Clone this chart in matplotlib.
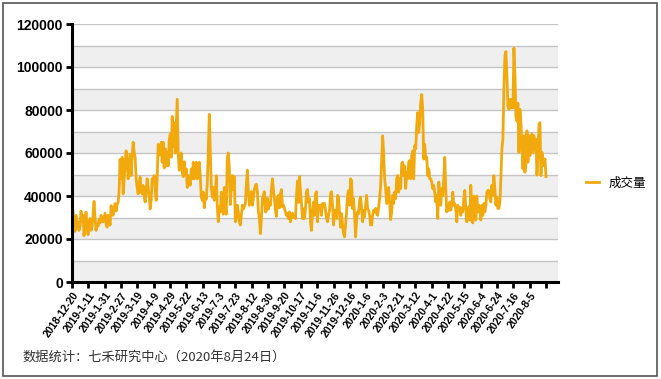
import numpy as np
import matplotlib
matplotlib.use("Agg")
import matplotlib.pyplot as plt
from matplotlib.patches import Rectangle

plt.rcParams["font.family"] = ["Liberation Sans", "Noto Sans CJK SC", "DejaVu Sans"]

# daily trading volume, 2018-12-20 .. 2020-08-21
volume = [
    35000, 33000, 26000, 23500, 31000, 25000, 28000, 24000, 26000, 33000,
    28000, 31000, 21500, 26000, 32500, 26000, 22000, 27000, 29500, 24000,
    25500, 31000, 37500, 30000, 24000, 27000, 26000, 29000, 27500, 31000,
    29000, 28000, 30000, 32000, 27000, 25500, 31000, 29000, 26500, 35500,
    33000, 31000, 34000, 36500, 33000, 36000, 37000, 42000, 57000, 48000,
    58000, 41000, 47000, 55000, 61000, 55500, 48000, 55000, 59500, 49500,
    58000, 65000, 60500, 58000, 48000, 44000, 41000, 46000, 48800, 42000,
    41000, 44900, 40000, 37200, 42000, 48000,
    44000, 40000, 34000, 38000, 48000, 47000, 49500, 43000, 38000, 48000,
    64000, 59000, 60000, 65000, 55700, 65000, 53000, 62000, 54000, 60000,
    54000, 66000, 68800, 58000, 77000, 63000, 74000, 60000, 72000, 85000,
    60000, 52000, 55000, 60000, 51000, 49000, 56000, 50000, 52600, 44000,
    49500, 48000, 45000, 52600, 48000, 55700, 48000, 51000, 55700, 48000,
    49500, 55700, 49500, 39500, 38000, 41800, 34500, 40000, 38500, 46000,
    60000, 78000, 61000, 44000, 39500, 44000, 38000, 41000, 49500, 35000,
    28000, 35000, 32600, 41800, 35000, 31500, 44000, 35000, 31500, 58000,
    60000, 53000, 36000, 44000, 49500, 43000, 49000, 28000, 30000, 35700,
    32600, 28000, 26500, 31000, 35700, 34000, 35000, 36500, 45000, 52000,
    42000, 35700, 37000, 42000, 35700, 39000, 43000, 45000, 45500, 42000,
    32600, 29500, 22500, 29500, 39000, 40300, 42000, 32600, 33000, 39000,
    34000, 37000, 35700, 43000, 48000, 43000, 39000, 33400, 30500, 39000,
    40300, 34500, 41000, 43000, 35000, 35700, 34200, 32600, 31000, 32000,
    29500, 32600, 28000, 31000, 32000, 30000, 31000, 29500, 40000, 47000,
    37000, 49000, 42000, 36500, 29500, 34000, 29500, 34000, 42000, 43000,
    37000, 38800, 28000, 24000, 32600, 37000, 31000, 41000, 42000, 28000,
    35700, 34200, 35700, 31000, 36500, 35700, 36500, 33400, 29500, 28000,
    31000, 33400, 41000, 42000, 35700, 26500, 33400, 32600, 29500, 40300,
    39500, 31800, 25500, 31800, 26500, 22500, 21000, 26500, 32600, 40300,
    42500, 35700, 48000, 47300, 34200, 38800, 31000, 21000, 28800, 32600,
    31800, 38000, 39500, 34200, 28000, 33400, 30300, 35700, 40300, 34200,
    33400, 31000, 26500, 26500, 31000, 33400, 32600, 34200, 31800, 31000,
    34800, 38800, 45000, 57000, 68000, 60000, 48000, 43500, 36500, 40300,
    44000, 37000, 29000, 32600, 40300, 36500, 41800, 38800, 48000, 49500,
    41800, 48000, 43500, 55000, 55700, 49500, 54000, 43500, 51000, 48000,
    55700, 56500, 48000, 58800, 61000, 48000, 63400, 62000, 72600, 78800,
    69500, 74000, 83400, 87200, 80300, 57200, 64100, 57200, 58000, 49500,
    52600, 48000, 48000, 46500, 43400, 44900, 41800, 37200, 40300, 29500,
    46500, 41800, 35700, 43400, 40300, 48000, 58000, 43400, 32600, 35700,
    33400, 37200, 33400, 35700, 41800, 35700, 36500, 34200, 28000, 35700,
    33400, 34800, 31000, 34200, 32600, 38800, 42600, 34200, 28000, 32600,
    35000, 28800, 45000, 32000, 27500, 40000, 37000, 28800, 40000, 32600,
    35700, 34200, 28800, 35700, 31000, 36500, 32600, 35700, 41800, 42600,
    42600, 38800, 37200, 45000, 40300, 49500, 43400, 35700, 39500, 34200,
    34200, 37200, 48000, 61800, 66400, 89500, 105000, 107200, 97000, 81800,
    80300, 84900, 81000, 84900, 81000, 108800, 97000, 77000, 74800, 83200,
    60300, 80300, 74100, 63400, 52600, 68000, 51000, 55700, 70300, 55700,
    68000, 58800, 66400, 68800, 60300, 68000, 61800, 66400, 49700, 58800,
    73400, 74100, 49500, 60300, 57200, 54100, 57200, 49000,
]

tick_dates = [
    "2018-12-20", "2019-1-11", "2019-1-31", "2019-2-27", "2019-3-19",
    "2019-4-9", "2019-4-29", "2019-5-22", "2019-6-13", "2019-7-3",
    "2019-7-23", "2019-8-12", "2019-8-30", "2019-9-20", "2019-10-17",
    "2019-11-6", "2019-11-26", "2019-12-16", "2020-1-6", "2020-2-3",
    "2020-2-21", "2020-3-12", "2020-4-1", "2020-4-22", "2020-5-15",
    "2020-6-4", "2020-6-24", "2020-7-16", "2020-8-5",
]

LINE_COLOR = "#f2a90d"

fig = plt.figure(figsize=(6.61, 3.79), dpi=100)
ax = fig.add_axes([72 / 661, 1 - 282 / 379, 486 / 661, 258 / 379])

n = len(volume)
x = np.arange(n)

# alternating bands + grid
for lo in range(0, 120000, 20000):
    ax.axhspan(lo, lo + 10000, color="#efefef", zorder=0, lw=0)
for yv in range(10000, 120001, 10000):
    ax.axhline(yv, color="#c4c4c4", lw=1.0, zorder=1)

ax.plot(x, volume, color=LINE_COLOR, lw=2.0, zorder=3, label="成交量")

ax.set_xlim(0, n - 1 + 12)
ax.set_ylim(0, 120000)

ax.tick_params(axis="both", direction="out", length=4, width=2, color="black")
ax.tick_params(axis="y", pad=2.5)
ax.tick_params(axis="x", pad=2)

ticks = np.linspace(0, n - 1, len(tick_dates) + 1)
ax.set_xticks(ticks)
ax.set_xticklabels(tick_dates + [""], rotation=55, ha="right", va="top",
                   rotation_mode="anchor")
ax.set_yticks(np.arange(0, 120001, 20000))
ax.set_yticklabels([str(v) for v in range(0, 120001, 20000)])
plt.setp(ax.get_xticklabels(), fontsize=7.5, fontweight="bold",
         family="Liberation Sans", color="black")
plt.setp(ax.get_yticklabels(), fontsize=10, fontweight="bold",
         family="Liberation Sans", color="black")

for side in ["top", "right"]:
    ax.spines[side].set_visible(False)
for side in ["left", "bottom"]:
    ax.spines[side].set_linewidth(2.2)
    ax.spines[side].set_zorder(4)

fig.legend(loc="center left", bbox_to_anchor=(575 / 661, 1 - 183 / 379),
           frameon=False, handlelength=1.0, handletextpad=0.8,
           prop={"family": ["Noto Sans CJK SC"], "size": 9})

fig.text(22 / 661, 1 - 357 / 379, "数据统计：七禾研究中心（2020年8月24日）",
         fontsize=9.5, color="#333333", va="center",
         family=["Noto Sans CJK SC"])

# outer frame
fig.patches.append(Rectangle((3 / 661, 3 / 379), 654 / 661, 373 / 379,
                             transform=fig.transFigure, fill=False,
                             edgecolor="#555555", lw=1.2))

plt.savefig("out.png", dpi=100)
